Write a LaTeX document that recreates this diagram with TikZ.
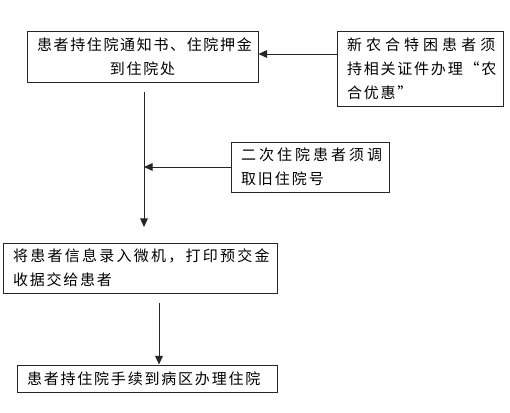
\documentclass[tikz,border=0pt]{standalone}
\usepackage{fontspec}
\newfontfamily\cjk[LetterSpace=12]{Noto Sans CJK SC}
\usetikzlibrary{arrows.meta}
\newcommand\lsp[1]{\addfontfeature{LetterSpace=#1}}
\begin{document}
\begin{tikzpicture}[x=0.75pt,y=-0.75pt,
  box/.style={draw=black!85,line width=0.75pt,inner ysep=0pt,inner xsep=7.5pt,
    font=\cjk\fontsize{11.25pt}{18pt}\selectfont,text=black,align=left},
  arr/.style={draw=black!85,line width=0.75pt,-{Triangle[length=6.5pt,width=5.8pt]}}]
\useasboundingbox (0,0) rectangle (510,412);
\node[box,align=center,text width=158.25pt,minimum height=38.25pt] (n1) at (142.5,56.5)
  {{\lsp{11}患者持住院通知书、住院押金}\\到住院处};
\node[box,text width=109.5pt,minimum height=56.25pt] (n2) at (420,68.5)
  {{\lsp{27}新农合特困患者须}\\持相关证件办理“农\\合优惠”};
\node[box,text width=103.5pt,minimum height=37.5pt] (n4) at (310,167)
  {{\lsp{20}二次住院患者须调}\\{\lsp{13}取旧住院号}};
\node[box,text width=190.5pt,minimum height=37.5pt] (n3) at (140,268)
  {{\lsp{15}将患者信息录入微机，打印预交金}\\收据交给患者};
\node[box,text width=180pt,minimum height=20.25pt] (n5) at (147,378.5)
  {患者持住院手续到病区办理住院};
\coordinate (h) at (0,54);
\coordinate (v1) at (144,92);
\coordinate (v2) at (144,227);
\coordinate (w1) at (159,303);
\draw[arr] (n2.west |- h) -- (n1.east |- h);
\draw[arr] (v1) -- (v2);
\draw[arr] (n4.west) -- (n4.west -| v1);
\draw[arr] (w1) -- (n5.north -| w1);
\end{tikzpicture}
\end{document}
